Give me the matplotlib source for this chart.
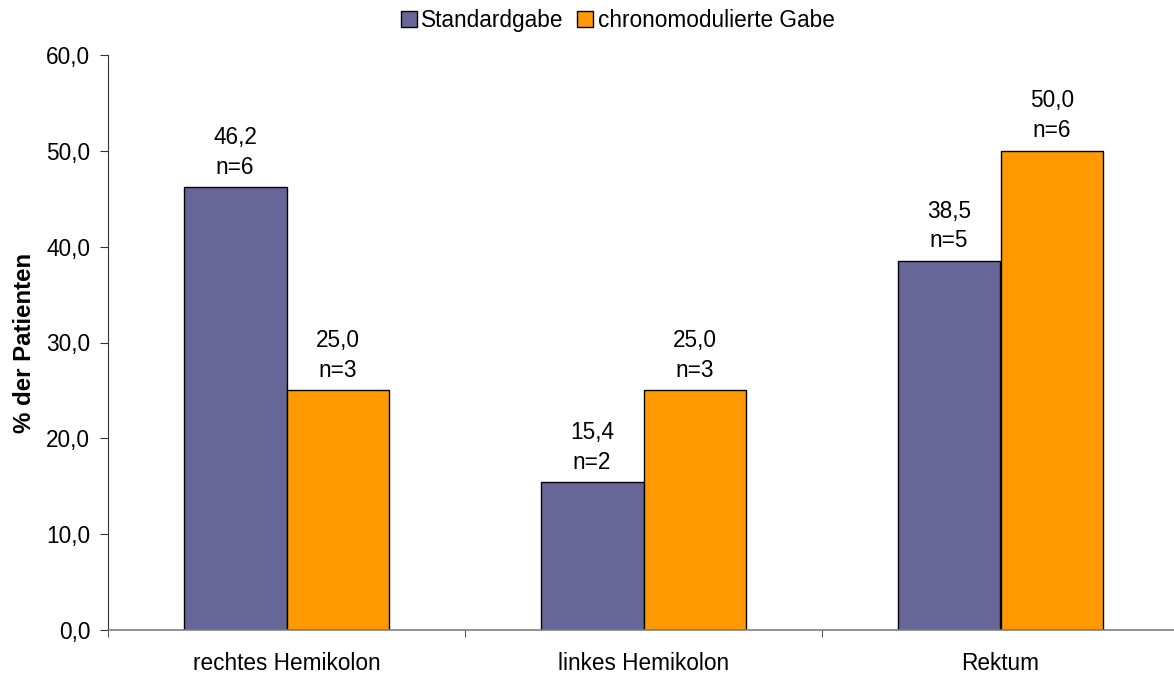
import matplotlib
matplotlib.use("Agg")
import matplotlib.pyplot as plt
import numpy as np

categories = ["rechtes Hemikolon", "linkes Hemikolon", "Rektum"]
series_names = ["Standardgabe", "chronomodulierte Gabe"]
standard_pct = [46.2, 15.4, 38.5]
standard_n = [6, 2, 5]
chrono_pct = [25.0, 25.0, 50.0]
chrono_n = [3, 3, 6]
colors = ["#666699", "#FF9900"]

plt.rcParams["font.family"] = ["Liberation Sans", "DejaVu Sans"]
FS = 16.3

fig = plt.figure(figsize=(11.74, 6.75), dpi=100)
ax = fig.add_axes([108 / 1174, 45 / 675, 1071 / 1174, 575 / 675])

x = np.arange(len(categories))
width = 0.288

def fmt(v):
    return f"{v:.1f}".replace(".", ",")

for i, (vals, ns) in enumerate([(standard_pct, standard_n), (chrono_pct, chrono_n)]):
    offs = (i - 0.5) * width
    bars = ax.bar(x + offs + 0.5, vals, width, color=colors[i], edgecolor="black",
                  linewidth=1.0, label=series_names[i], zorder=2)
    for b, v, n in zip(bars, vals, ns):
        ax.text(b.get_x() + b.get_width() / 2, v + 0.9, f"{fmt(v)}\nn={n}",
                ha="center", va="bottom", fontsize=FS, linespacing=1.38)

ax.set_xlim(0, 3)
ax.set_ylim(0, 60)
ax.set_yticks(np.arange(0, 61, 10))
ax.set_yticklabels([fmt(v) for v in np.arange(0, 61, 10)], fontsize=FS)
ax.set_xticks([0, 1, 2, 3])
ax.set_xticklabels([])
ax.set_xticks(x + 0.5, minor=True)
ax.set_xticklabels(categories, minor=True, fontsize=FS)
ax.tick_params(axis="x", which="minor", length=0, pad=16)
ax.tick_params(axis="x", which="major", length=5, color="#555555", direction="out")
ax.tick_params(axis="y", length=5.8, color="#333333", direction="out", pad=7)

for s in ["top", "right"]:
    ax.spines[s].set_visible(False)
ax.spines["left"].set_color("#333333")
ax.spines["bottom"].set_color("#808080")
ax.spines["bottom"].set_linewidth(1.2)

ax.set_ylabel("% der Patienten", fontsize=17.3, fontweight="bold", labelpad=7)

leg = fig.legend(loc="upper center", bbox_to_anchor=(0.526, 1.017), ncol=2, frameon=False,
                 fontsize=FS, handlelength=0.7, handleheight=0.7, handletextpad=0.2,
                 columnspacing=0.6)

fig.savefig("out.png", dpi=100)
